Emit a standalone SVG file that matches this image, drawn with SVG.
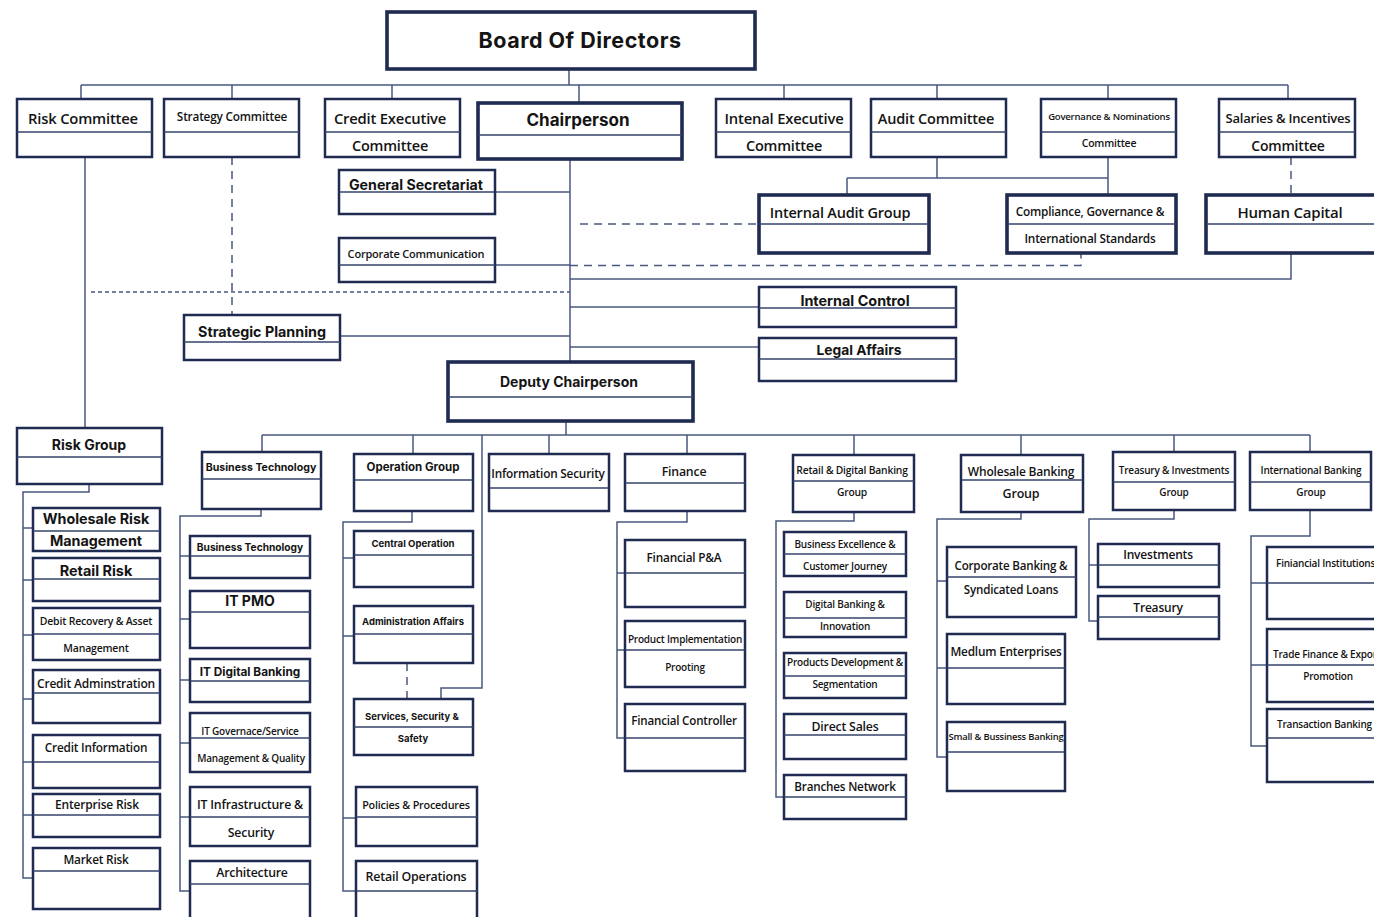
<svg xmlns="http://www.w3.org/2000/svg" width="1374" height="917" viewBox="0 0 1374 917">
<style>
.b{fill:#fff;stroke:#1f2b50;stroke-width:2.5}
.bt{fill:#fff;stroke:#1f2b50;stroke-width:3.6}
.d{stroke:#34426b;stroke-width:1.3}
.c{fill:none;stroke:#4a5880;stroke-width:1.5}
.dash{stroke-dasharray:8 6}
.dot{stroke-dasharray:4 3}
text{fill:#141414;text-anchor:middle;dominant-baseline:central}
.m{font-family:Inter,"DejaVu Sans",sans-serif;font-weight:700}
.o{font-family:"Open Sans","Liberation Sans",sans-serif;font-weight:600;letter-spacing:-0.2px}
.s{text-anchor:start}
</style>
<rect width="1374" height="917" fill="#fff"/>
<g id="connectors">
<path class="c" d="M569 69V85M81 85H1288M81 85V99M232 85V99M392 85V99M579 85V103M784 85V99M937 85V99M1108 85V99M1288 85V99"/>
<path class="c" d="M937 157V178M847 178H1108M847 178V195M1108 157V195"/>
<path class="c dash" d="M1291 157V195"/>
<path class="c" d="M570 159V361M495 192H570M495 265H570M570 279H1291V253M570 307H758M570 347H758M340 336H570M85 157V428"/>
<path class="c dash" d="M580 224H758M570 265.5H1081V253M232 157V315"/>
<path class="c dot" d="M91 292H570"/>
<path class="c" d="M566 421V435M262 435H1310M262 435V452M413 435V454M482 435V688H441V699M549 435V454M687 435V454M854 435V455M1021 435V455M1174 435V452M1310 435V452"/>
<path class="c" d="M89 484V492H23V878H32M23 528H32M23 580H32M23 635H32M23 699H32M23 762H32M23 815H32"/>
<path class="c" d="M261 509V516H180V891H189M180 556H189M180 619H189M180 680H189M180 743H189M180 817H189"/>
<path class="c" d="M412 511V522H343V891H356M343 558H353M343 636H353M343 818H356"/>
<path class="c dash" d="M407 663V699"/>
<path class="c" d="M687 511V522H617V738H624M617 573H624M617 650H624"/>
<path class="c" d="M854 512V521H776V797H784"/>
<path class="c" d="M1021 512V519H937V757H947M937 581H947M937 668H947"/>
<path class="c" d="M1174 510V519H1089V621H1097M1089 565H1097"/>
<path class="c" d="M1310 510V536H1251V746H1266M1251 583H1266M1251 665H1266"/>
</g>
<g id="board"><rect class="bt" x="387" y="12" width="368" height="57"/><text class="m" x="580" y="40" font-size="21.5" letter-spacing="0.5">Board Of Directors</text></g>
<g id="risk-committee"><rect class="b" x="17" y="99" width="135" height="58"/><line class="d" x1="17" y1="132" x2="152" y2="132"/><text class="o" x="83" y="118" font-size="14.8">Risk Committee</text></g>
<g id="strategy-committee"><rect class="b" x="164" y="99" width="135" height="58"/><line class="d" x1="164" y1="132" x2="299" y2="132"/><text class="o" x="232" y="116" font-size="11.8">Strategy Committee</text></g>
<g id="credit-exec"><rect class="b" x="325" y="99" width="135" height="58"/><line class="d" x1="325" y1="132" x2="460" y2="132"/><text class="o" x="390" y="118" font-size="14.8">Credit Executive</text><text class="o" x="390" y="145" font-size="14.5">Committee</text></g>
<g id="chairperson"><rect class="bt" x="478" y="103" width="204" height="56"/><line class="d" x1="478" y1="135" x2="682" y2="135"/><text class="m" x="578" y="120" font-size="17">Chairperson</text></g>
<g id="internal-exec"><rect class="b" x="716" y="99" width="135" height="58"/><line class="d" x1="716" y1="132" x2="851" y2="132"/><text class="o" x="784" y="118" font-size="14.8">Intenal Executive</text><text class="o" x="784" y="145" font-size="14.5">Committee</text></g>
<g id="audit-committee"><rect class="b" x="871" y="99" width="135" height="58"/><line class="d" x1="871" y1="132" x2="1006" y2="132"/><text class="o" x="936" y="118" font-size="14.5">Audit Committee</text></g>
<g id="governance-committee"><rect class="b" x="1041" y="99" width="135" height="58"/><line class="d" x1="1041" y1="132" x2="1176" y2="132"/><text class="o" x="1109" y="116" font-size="9.5">Governance &amp; Nominations</text><text class="o" x="1109" y="143" font-size="10.5">Committee</text></g>
<g id="salaries-committee"><rect class="b" x="1219" y="99" width="136" height="58"/><line class="d" x1="1219" y1="132" x2="1355" y2="132"/><text class="o" x="1288" y="118" font-size="13">Salaries &amp; Incentives</text><text class="o" x="1288" y="145" font-size="14">Committee</text></g>
<g id="general-secretariat"><rect class="b" x="339" y="170" width="156" height="44"/><line class="d" x1="339" y1="192" x2="495" y2="192"/><text class="m" x="416" y="184" font-size="14.2">General Secretariat</text></g>
<g id="corporate-communication"><rect class="b" x="339" y="238" width="156" height="44"/><line class="d" x1="339" y1="265" x2="495" y2="265"/><text class="o" x="416" y="253" font-size="11">Corporate Communication</text></g>
<g id="internal-audit-group"><rect class="bt" x="759" y="195" width="170" height="58"/><line class="d" x1="759" y1="224" x2="929" y2="224"/><text class="o" x="840" y="212" font-size="14.5">Internal Audit Group</text></g>
<g id="compliance"><rect class="bt" x="1007" y="195" width="169" height="58"/><line class="d" x1="1007" y1="224" x2="1176" y2="224"/><text class="o" x="1090" y="211" font-size="11.8">Compliance, Governance &amp;</text><text class="o" x="1090" y="238" font-size="11.8">International Standards</text></g>
<g id="human-capital"><rect class="bt" x="1206" y="195" width="172" height="58"/><line class="d" x1="1206" y1="224" x2="1378" y2="224"/><text class="o" x="1290" y="212" font-size="15">Human Capital</text></g>
<g id="internal-control"><rect class="b" x="759" y="287" width="197" height="40"/><line class="d" x1="759" y1="308" x2="956" y2="308"/><text class="m" x="855" y="300" font-size="14.4">Internal Control</text></g>
<g id="legal-affairs"><rect class="b" x="759" y="338" width="197" height="43"/><line class="d" x1="759" y1="359" x2="956" y2="359"/><text class="m" x="859" y="350" font-size="13.8">Legal Affairs</text></g>
<g id="strategic-planning"><rect class="b" x="184" y="315" width="156" height="45"/><line class="d" x1="184" y1="342" x2="340" y2="342"/><text class="m" x="262" y="331" font-size="14.3">Strategic Planning</text></g>
<g id="deputy-chairperson"><rect class="bt" x="448" y="362" width="245" height="59"/><line class="d" x1="448" y1="397" x2="693" y2="397"/><text class="m" x="569" y="381" font-size="14">Deputy Chairperson</text></g>
<g id="risk-group"><rect class="b" x="17" y="428" width="145" height="56"/><line class="d" x1="17" y1="457" x2="162" y2="457"/><text class="m" x="89" y="444" font-size="14">Risk Group</text></g>
<g id="wholesale-risk"><rect class="b" x="33" y="508" width="127" height="43"/><line class="d" x1="33" y1="531" x2="160" y2="531"/><text class="m" x="96" y="518" font-size="14.3">Wholesale Risk</text><text class="m" x="96" y="540" font-size="14.3">Management</text></g>
<g id="retail-risk"><rect class="b" x="33" y="558" width="127" height="43"/><line class="d" x1="33" y1="579" x2="160" y2="579"/><text class="m" x="96" y="570" font-size="14.4">Retail Risk</text></g>
<g id="debit-recovery"><rect class="b" x="33" y="608" width="127" height="52"/><line class="d" x1="33" y1="634" x2="160" y2="634"/><text class="o" x="96" y="621" font-size="10.5">Debit Recovery &amp; Asset</text><text class="o" x="96" y="648" font-size="10.5">Management</text></g>
<g id="credit-administration"><rect class="b" x="33" y="670" width="127" height="53"/><line class="d" x1="33" y1="693" x2="160" y2="693"/><text class="o" x="96" y="683" font-size="12">Credit Adminstration</text></g>
<g id="credit-information"><rect class="b" x="33" y="735" width="127" height="53"/><line class="d" x1="33" y1="762" x2="160" y2="762"/><text class="o" x="96" y="747" font-size="11.8">Credit Information</text></g>
<g id="enterprise-risk"><rect class="b" x="33" y="794" width="127" height="43"/><line class="d" x1="33" y1="815" x2="160" y2="815"/><text class="o" x="97" y="804" font-size="12">Enterprise Risk</text></g>
<g id="market-risk"><rect class="b" x="33" y="848" width="127" height="61"/><line class="d" x1="33" y1="871" x2="160" y2="871"/><text class="o" x="96" y="859" font-size="11.8">Market Risk</text></g>
<g id="business-technology-group"><rect class="b" x="202" y="452" width="119" height="57"/><line class="d" x1="202" y1="479" x2="321" y2="479"/><text class="m" x="261" y="467" font-size="10.6">Business Technology</text></g>
<g id="business-technology"><rect class="b" x="190" y="536" width="120" height="42"/><line class="d" x1="190" y1="556" x2="310" y2="556"/><text class="m" x="250" y="547" font-size="10.2">Business Technology</text></g>
<g id="it-pmo"><rect class="b" x="190" y="591" width="120" height="57"/><line class="d" x1="190" y1="612" x2="310" y2="612"/><text class="m" x="250" y="600" font-size="14">IT PMO</text></g>
<g id="it-digital-banking"><rect class="b" x="190" y="659" width="120" height="43"/><line class="d" x1="190" y1="681" x2="310" y2="681"/><text class="m" x="250" y="672" font-size="11.8">IT Digital Banking</text></g>
<g id="it-governance"><rect class="b" x="190" y="713" width="120" height="59"/><line class="d" x1="190" y1="738" x2="310" y2="738"/><text class="o" x="250" y="731" font-size="10">IT Governace/Service</text><text class="o" x="251" y="758" font-size="10">Management &amp; Quality</text></g>
<g id="it-infrastructure"><rect class="b" x="190" y="787" width="120" height="59"/><line class="d" x1="190" y1="817" x2="310" y2="817"/><text class="o" x="250" y="804" font-size="12.3">IT Infrastructure &amp;</text><text class="o" x="251" y="832" font-size="12.3">Security</text></g>
<g id="architecture"><rect class="b" x="190" y="861" width="120" height="70"/><line class="d" x1="190" y1="884" x2="310" y2="884"/><text class="o" x="252" y="872" font-size="12.3">Architecture</text></g>
<g id="operation-group"><rect class="b" x="354" y="454" width="119" height="57"/><line class="d" x1="354" y1="480" x2="473" y2="480"/><text class="m" x="413" y="467" font-size="11.5">Operation Group</text></g>
<g id="central-operation"><rect class="b" x="354" y="531" width="119" height="56"/><line class="d" x1="354" y1="555" x2="473" y2="555"/><text class="m" x="413" y="543" font-size="9.6">Central Operation</text></g>
<g id="administration-affairs"><rect class="b" x="354" y="606" width="119" height="57"/><line class="d" x1="354" y1="634" x2="473" y2="634"/><text class="m" x="413" y="621" font-size="9.5">Administration Affairs</text></g>
<g id="services-security"><rect class="b" x="354" y="699" width="119" height="56"/><line class="d" x1="354" y1="727" x2="473" y2="727"/><text class="m" x="412" y="716" font-size="9.5">Services, Security &amp;</text><text class="m" x="413" y="738" font-size="9.5">Safety</text></g>
<g id="policies-procedures"><rect class="b" x="356" y="787" width="121" height="59"/><line class="d" x1="356" y1="817" x2="477" y2="817"/><text class="o" x="416" y="804" font-size="10.8">Policies &amp; Procedures</text></g>
<g id="retail-operations"><rect class="b" x="356" y="861" width="121" height="70"/><line class="d" x1="356" y1="891" x2="477" y2="891"/><text class="o" x="416" y="876" font-size="12.4">Retail Operations</text></g>
<g id="information-security"><rect class="b" x="489" y="454" width="120" height="57"/><line class="d" x1="489" y1="488" x2="609" y2="488"/><text class="o" x="548" y="473" font-size="11.8">Information Security</text></g>
<g id="finance"><rect class="b" x="625" y="454" width="120" height="57"/><line class="d" x1="625" y1="483" x2="745" y2="483"/><text class="o" x="684" y="471" font-size="12.3">Finance</text></g>
<g id="financial-pa"><rect class="b" x="625" y="540" width="120" height="67"/><line class="d" x1="625" y1="573" x2="745" y2="573"/><text class="o" x="684" y="557" font-size="11.8">Financial P&amp;A</text></g>
<g id="product-implementation"><rect class="b" x="625" y="621" width="120" height="66"/><line class="d" x1="625" y1="650" x2="745" y2="650"/><text class="o" x="685" y="639" font-size="10">Product Implementation</text><text class="o" x="685" y="667" font-size="10">Prooting</text></g>
<g id="financial-controller"><rect class="b" x="625" y="704" width="120" height="67"/><line class="d" x1="625" y1="738" x2="745" y2="738"/><text class="o" x="684" y="720" font-size="11.6">Financial Controller</text></g>
<g id="retail-digital-group"><rect class="b" x="793" y="455" width="121" height="57"/><line class="d" x1="793" y1="481" x2="914" y2="481"/><text class="o" x="852" y="470" font-size="10.3">Retail &amp; Digital Banking</text><text class="o" x="852" y="492" font-size="10.3">Group</text></g>
<g id="business-excellence"><rect class="b" x="784" y="532" width="122" height="44"/><line class="d" x1="784" y1="554" x2="906" y2="554"/><text class="o" x="845" y="544" font-size="10">Business Excellence &amp;</text><text class="o" x="845" y="566" font-size="10">Customer Journey</text></g>
<g id="digital-banking"><rect class="b" x="784" y="592" width="122" height="45"/><line class="d" x1="784" y1="618" x2="906" y2="618"/><text class="o" x="845" y="604" font-size="10">Digital Banking &amp;</text><text class="o" x="845" y="626" font-size="10">Innovation</text></g>
<g id="products-development"><rect class="b" x="784" y="653" width="122" height="45"/><line class="d" x1="784" y1="676" x2="906" y2="676"/><text class="o" x="845" y="662" font-size="10">Products Development &amp;</text><text class="o" x="845" y="684" font-size="10">Segmentation</text></g>
<g id="direct-sales"><rect class="b" x="784" y="714" width="122" height="45"/><line class="d" x1="784" y1="735" x2="906" y2="735"/><text class="o" x="845" y="726" font-size="12.3">Direct Sales</text></g>
<g id="branches-network"><rect class="b" x="784" y="775" width="122" height="44"/><line class="d" x1="784" y1="797" x2="906" y2="797"/><text class="o" x="845" y="786" font-size="11.7">Branches Network</text></g>
<g id="wholesale-banking-group"><rect class="b" x="961" y="455" width="122" height="57"/><line class="d" x1="961" y1="480" x2="1083" y2="480"/><text class="o" x="1021" y="471" font-size="12">Wholesale Banking</text><text class="o" x="1021" y="493" font-size="12.5">Group</text></g>
<g id="corporate-banking"><rect class="b" x="947" y="547" width="129" height="70"/><line class="d" x1="947" y1="577" x2="1076" y2="577"/><text class="o" x="1011" y="565" font-size="11.6">Corporate Banking &amp;</text><text class="o" x="1011" y="589" font-size="11.6">Syndicated Loans</text></g>
<g id="medium-enterprises"><rect class="b" x="947" y="634" width="118" height="70"/><line class="d" x1="947" y1="668" x2="1065" y2="668"/><text class="o" x="1006" y="651" font-size="11.8">Medlum Enterprises</text></g>
<g id="small-business"><rect class="b" x="947" y="722" width="118" height="69"/><line class="d" x1="947" y1="752" x2="1065" y2="752"/><text class="o" x="1006" y="736" font-size="9.4">Small &amp; Bussiness Banking</text></g>
<g id="treasury-group"><rect class="b" x="1113" y="452" width="122" height="58"/><line class="d" x1="1113" y1="482" x2="1235" y2="482"/><text class="o" x="1174" y="470" font-size="10">Treasury &amp; Investments</text><text class="o" x="1174" y="492" font-size="10">Group</text></g>
<g id="investments"><rect class="b" x="1098" y="544" width="121" height="43"/><line class="d" x1="1098" y1="565" x2="1219" y2="565"/><text class="o" x="1158" y="554" font-size="12">Investments</text></g>
<g id="treasury"><rect class="b" x="1098" y="596" width="121" height="43"/><line class="d" x1="1098" y1="617" x2="1219" y2="617"/><text class="o" x="1158" y="607" font-size="12">Treasury</text></g>
<g id="international-group"><rect class="b" x="1250" y="452" width="121" height="58"/><line class="d" x1="1250" y1="482" x2="1371" y2="482"/><text class="o" x="1311" y="470" font-size="10">International Banking</text><text class="o" x="1311" y="492" font-size="10">Group</text></g>
<g id="financial-institutions"><rect class="b" x="1267" y="547" width="125" height="72"/><line class="d" x1="1267" y1="583" x2="1392" y2="583"/><text class="o s" x="1276" y="563" font-size="10">Finiancial Institutions</text></g>
<g id="trade-finance"><rect class="b" x="1267" y="629" width="125" height="73"/><line class="d" x1="1267" y1="665" x2="1392" y2="665"/><text class="o s" x="1273" y="654" font-size="10">Trade Finance &amp; Export</text><text class="o" x="1328" y="676" font-size="10">Promotion</text></g>
<g id="transaction-banking"><rect class="b" x="1267" y="709" width="125" height="73"/><line class="d" x1="1267" y1="738" x2="1392" y2="738"/><text class="o s" x="1277" y="724" font-size="10">Transaction Banking</text></g>
</svg>
